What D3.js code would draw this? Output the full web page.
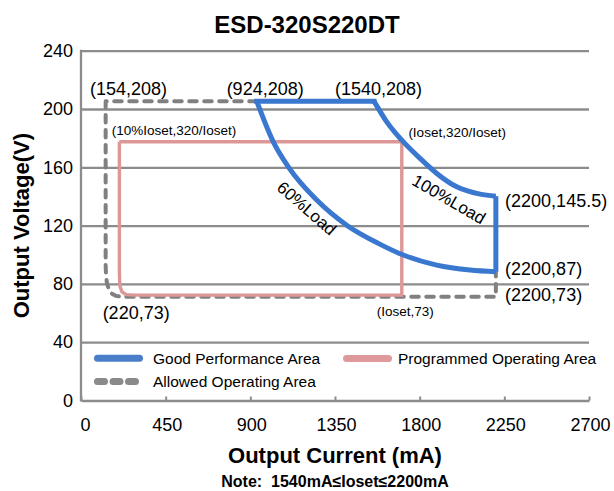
<!DOCTYPE html>
<html>
<head>
<meta charset="utf-8">
<script src="https://cdn.jsdelivr.net/npm/d3@7"></script>
<style>
  html, body { margin: 0; padding: 0; background: #fff; }
  svg { display: block; }
  text { font-family: "Liberation Sans", Arial, sans-serif; fill: #000; }
</style>
</head>
<body>
<svg id="chart" width="614" height="491"></svg>
<script>
// ---------- data ----------
const chartTitle = "ESD-320S220DT";
const xTicks = [0, 450, 900, 1350, 1800, 2250, 2700];
const yTicks = [0, 40, 80, 120, 160, 200, 240];

// Good Performance Area (blue)
const goodTop = [[934, 205.4], [1557, 205.4]];
const load100 = [[1557, 205.4], [1625, 191.2], [1705, 178.6], [1802, 166.1], [1891, 155.8],
                 [1997, 146.6], [2121, 141.6], [2205, 140.2]];
const goodRight = [[2205, 140.2], [2205, 88.3]];
const load60 = [[934, 205.4], [1022, 177.5], [1102, 160.3], [1253, 137.5], [1412, 120.3],
                [1580, 107.8], [1713, 99.8], [1891, 92.9], [2068, 89.5], [2205, 88.3]];

// Programmed Operating Area (pink)
const programmed = [[204, 177.5], [1705, 177.5], [1705, 72.3], [290, 72.3], [240, 72.6],
                    [218, 74.5], [208, 78], [205, 83], [204, 90], [204, 177.5]];

// Allowed Operating Area (grey dashed)
const allowed = [[934, 205.4], [131, 205.4], [131, 93], [133, 86], [138, 80.5], [147, 76.5],
                 [162, 73.5], [185, 71.8], [220, 71.1], [2205, 71.1], [2205, 88.3]];

// point annotations: text, data x (start), data y (baseline)
const annotations = [
  { t: "(154,208)", x: 48, y: 209.8, s: 18 },
  { t: "(924,208)", x: 774, y: 209.8, s: 18 },
  { t: "(1540,208)", x: 1350, y: 209.8, s: 18 },
  { t: "(10%Ioset,320/Ioset)", x: 163, y: 181.9, s: 13.5 },
  { t: "(Ioset,320/Ioset)", x: 1740, y: 180.9, s: 13.5 },
  { t: "(2200,145.5)", x: 2254, y: 133.1, s: 18 },
  { t: "(2200,87)", x: 2254, y: 86.3, s: 18 },
  { t: "(2200,73)", x: 2254, y: 68.0, s: 18 },
  { t: "(220,73)", x: 115, y: 56.1, s: 18 },
  { t: "(Ioset,73)", x: 1572, y: 57.8, s: 13.5 }
];
const curveLabels = [
  { t: "60%Load", x: 1200, y: 131.9, rot: 41 },
  { t: "100%Load", x: 1956, y: 138.1, rot: 30 }
];
const legendItems = [
  { name: "Good Performance Area", kind: "good" },
  { name: "Programmed Operating Area", kind: "prog" },
  { name: "Allowed Operating Area", kind: "allowed" }
];

// ---------- drawing ----------
const svg = d3.select("#chart");
const gridColor = "#8c8c8c";
const blue = "#3a78cf", pink = "#dc9796", grey = "#808080";

const x = d3.scaleLinear().domain([0, 2700]).range([81, 589]);
const y = d3.scaleLinear().domain([0, 240]).range([400.5, 50.7]);

// title
svg.append("text").attr("x", 307).attr("y", 33).attr("text-anchor", "middle")
  .style("font-size", "24px").style("font-weight", "bold").text(chartTitle);

// y grid + labels
const yAxis = svg.append("g").attr("transform", `translate(${x(0)},0)`)
  .call(d3.axisLeft(y).tickValues(yTicks).tickFormat(d3.format("d"))
    .tickSize(-(x(2700) - x(0))).tickPadding(8));
yAxis.select(".domain").remove();
yAxis.selectAll(".tick line").attr("stroke", gridColor).attr("stroke-width", 2.3)
  .filter(d => d === 0).remove();
yAxis.selectAll(".tick text").style("font-size", "18px")
  .style("font-family", '"Liberation Sans", Arial, sans-serif').attr("fill", "#000");

// x axis
const xAxis = svg.append("g").attr("transform", `translate(0,${y(0)})`)
  .call(d3.axisBottom(x).tickValues(xTicks).tickFormat(d3.format("d"))
    .tickSize(-4).tickSizeOuter(0).tickPadding(18));
xAxis.select(".domain").attr("stroke", gridColor).attr("stroke-width", 2.3);
xAxis.selectAll(".tick line").attr("stroke", gridColor).attr("stroke-width", 2);
xAxis.selectAll(".tick text").style("font-size", "18px")
  .style("font-family", '"Liberation Sans", Arial, sans-serif').attr("fill", "#000")
  .attr("dx", d => d === 0 ? 4 : 1);

// left axis line
svg.append("line").attr("x1", x(0)).attr("x2", x(0)).attr("y1", y(240) - 1).attr("y2", y(0) + 1)
  .attr("stroke", gridColor).attr("stroke-width", 2.3);

const line = d3.line().x(d => x(d[0])).y(d => y(d[1]));
const mono = d3.line().x(d => x(d[0])).y(d => y(d[1])).curve(d3.curveMonotoneX);

// allowed (grey dashed)
svg.append("path").attr("d", line(allowed)).attr("fill", "none")
  .attr("stroke", grey).attr("stroke-width", 4).attr("stroke-linecap", "round")
  .attr("stroke-linejoin", "round").attr("stroke-dasharray", "7.5,7.5");

// programmed (pink)
svg.append("path").attr("d", line(programmed)).attr("fill", "none")
  .attr("stroke", pink).attr("stroke-width", 3.4).attr("stroke-linejoin", "miter");

// good performance (blue)
const gG = svg.append("g").attr("fill", "none").attr("stroke", blue).attr("stroke-width", 5)
  .attr("stroke-linejoin", "round");
gG.append("path").attr("d", line(goodTop)).attr("stroke-linecap", "square");
gG.append("path").attr("d", mono(load100));
gG.append("path").attr("d", line(goodRight)).attr("stroke-linecap", "butt");
gG.append("path").attr("d", mono(load60));

// annotations
svg.append("g").selectAll("text").data(annotations).join("text")
  .attr("x", d => x(d.x)).attr("y", d => y(d.y))
  .style("font-size", d => d.s + "px").text(d => d.t);

svg.append("g").selectAll("text").data(curveLabels).join("text")
  .attr("transform", d => `translate(${x(d.x)},${y(d.y)}) rotate(${d.rot})`)
  .attr("text-anchor", "middle").attr("dy", "0.35em")
  .style("font-size", "17px").text(d => d.t);

// legend
const legPos = { good: [94, 358.3], prog: [343, 358.5], allowed: [94, 381.5] };
const leg = svg.append("g");
legendItems.forEach(it => {
  const [lx, ly] = legPos[it.kind];
  const g = leg.append("g");
  if (it.kind === "allowed") {
    g.append("line").attr("x1", lx + 3.5).attr("x2", lx + 42).attr("y1", ly).attr("y2", ly)
      .attr("stroke", "#8a8a8a").attr("stroke-width", 7).attr("stroke-linecap", "round")
      .attr("stroke-dasharray", "7,8.5");
  } else {
    g.append("line").attr("x1", lx + 3.5).attr("x2", lx + 45.5).attr("y1", ly).attr("y2", ly)
      .attr("stroke", it.kind === "good" ? "#4a7ec8" : "#de9a9a").attr("stroke-width", 7)
      .attr("stroke-linecap", "round");
  }
  g.append("text").attr("x", it.kind === "prog" ? 398 : 153).attr("y", ly).attr("dy", "0.35em")
    .style("font-size", "15.5px").text(it.name);
});

// axis titles
svg.append("text").attr("x", (x(0) + x(2700)) / 2).attr("y", 463).attr("text-anchor", "middle")
  .style("font-size", "22px").style("font-weight", "bold").text("Output Current (mA)");
svg.append("text").attr("transform", `translate(29,${(y(0) + y(240)) / 2}) rotate(-90)`)
  .attr("text-anchor", "middle").style("font-size", "22px").style("font-weight", "bold")
  .text("Output Voltage(V)");
svg.append("text").attr("x", (x(0) + x(2700)) / 2).attr("y", 487).attr("text-anchor", "middle")
  .style("font-size", "16px").style("font-weight", "bold").attr("xml:space", "preserve")
  .text("Note:  1540mA\u2264Ioset\u22642200mA");
</script>
</body>
</html>
